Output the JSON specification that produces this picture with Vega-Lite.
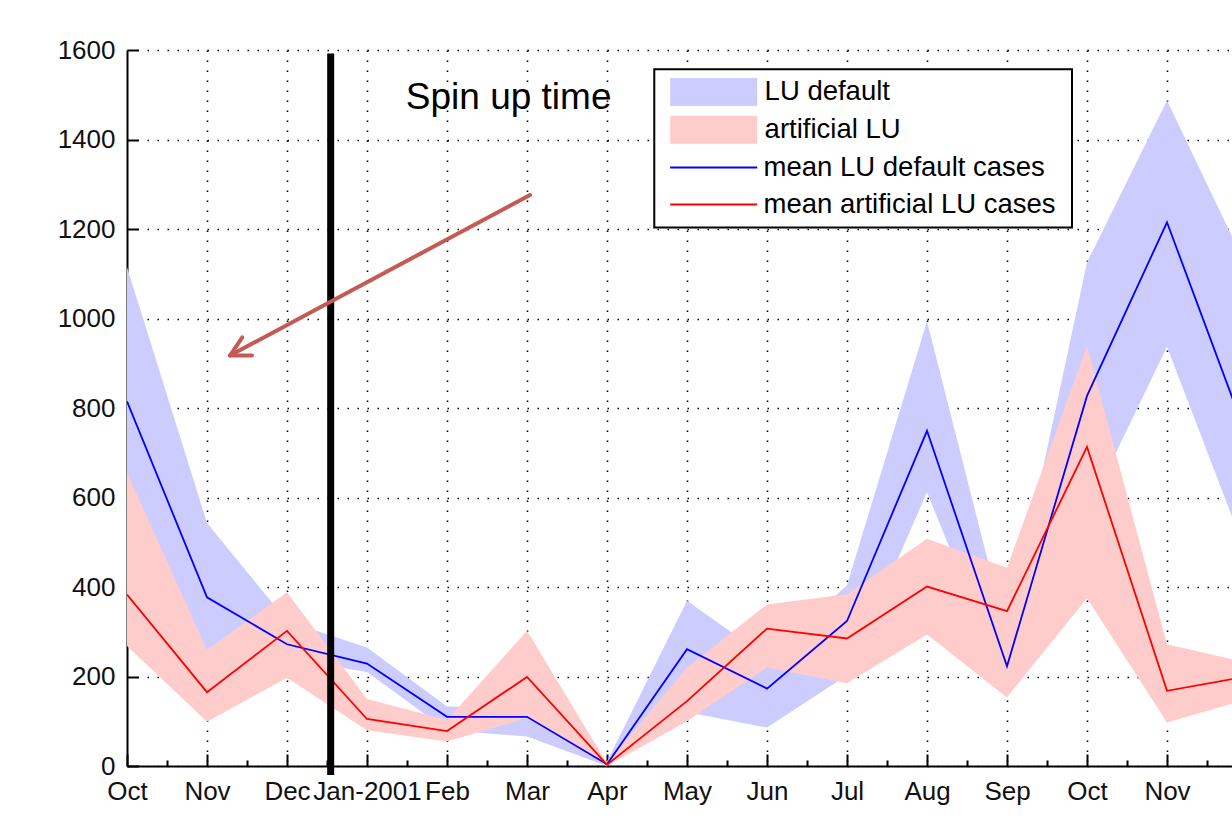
{
  "$schema": "https://vega.github.io/schema/vega-lite/v6.json",
  "width": 1105,
  "height": 716,
  "autosize": {"type": "none"},
  "padding": {"left": 127, "top": 50, "right": 0, "bottom": 55},
  "background": "white",
  "config": {"view": {"stroke": null}, "font": "Liberation Sans"},
  "datasets": {
    "series": [
      {"m": 0, "bMean": 815, "bLo": 530, "bHi": 1115, "rMean": 383, "rLo": 268, "rHi": 655},
      {"m": 1, "bMean": 377, "bLo": 230, "bHi": 543, "rMean": 165, "rLo": 99, "rHi": 260},
      {"m": 2, "bMean": 272, "bLo": 240, "bHi": 324, "rMean": 302, "rLo": 197, "rHi": 388},
      {"m": 3, "bMean": 229, "bLo": 210, "bHi": 265, "rMean": 105, "rLo": 80, "rHi": 150},
      {"m": 4, "bMean": 110, "bLo": 80, "bHi": 133, "rMean": 78, "rLo": 55, "rHi": 103},
      {"m": 5, "bMean": 110, "bLo": 66, "bHi": 130, "rMean": 199, "rLo": 107, "rHi": 302},
      {"m": 6, "bMean": 4, "bLo": 0, "bHi": 10, "rMean": 3, "rLo": 0, "rHi": 6},
      {"m": 7, "bMean": 261, "bLo": 120, "bHi": 369, "rMean": 145, "rLo": 100, "rHi": 220},
      {"m": 8, "bMean": 173, "bLo": 86, "bHi": 242, "rMean": 307, "rLo": 220, "rHi": 361},
      {"m": 9, "bMean": 324, "bLo": 203, "bHi": 404, "rMean": 285, "rLo": 185, "rHi": 384},
      {"m": 10, "bMean": 749, "bLo": 612, "bHi": 994, "rMean": 401, "rLo": 294, "rHi": 508},
      {"m": 11, "bMean": 223, "bLo": 170, "bHi": 290, "rMean": 346, "rLo": 153, "rHi": 443},
      {"m": 12, "bMean": 827, "bLo": 566, "bHi": 1125, "rMean": 713, "rLo": 375, "rHi": 939},
      {"m": 13, "bMean": 1215, "bLo": 937, "bHi": 1487, "rMean": 168, "rLo": 97, "rHi": 272},
      {"m": 14, "bMean": 735, "bLo": 470, "bHi": 1113, "rMean": 200, "rLo": 149, "rHi": 231}
    ],
    "arrow": [
      {"part": "shaft", "o": 0, "x": 5.0375, "y": 1276},
      {"part": "shaft", "o": 1, "x": 1.2875, "y": 917.3},
      {"part": "head", "o": 0, "x": 1.441, "y": 957.9},
      {"part": "head", "o": 1, "x": 1.2875, "y": 917.3},
      {"part": "head", "o": 2, "x": 1.5625, "y": 917.3}
    ],
    "notes": [
      {"x": 3.485, "y": 1493, "text": "Spin up time"}
    ],
    "spinup": [
      {"x": 2.546, "top": 1592, "bottom": -20}
    ],
    "legendbox": [
      {"x1": 6.591, "x2": 11.8125, "y1": 1203.3, "y2": 1556.8}
    ]
  },
  "layer": [
    {
      "data": {"name": "series"},
      "mark": {"type": "area", "clip": true, "opacity": 1},
      "encoding": {
        "x": {
          "field": "m", "type": "quantitative",
          "scale": {"domain": [0, 13.8125], "nice": false, "zero": false},
          "axis": {
            "values": [0, 0.5, 1, 1.5, 2, 2.5, 3, 3.5, 4, 4.5, 5, 5.5, 6, 6.5, 7, 7.5, 8, 8.5, 9, 9.5, 10, 10.5, 11, 11.5, 12, 12.5, 13, 13.5, 14],
            "labelExpr": "datum.value % 1 === 0 ? ['Oct','Nov','Dec','Jan-2001','Feb','Mar','Apr','May','Jun','Jul','Aug','Sep','Oct','Nov','Dec'][datum.value] : ''",
            "title": null,
            "grid": true,
            "gridColor": "#000",
            "gridDash": [1.5, 8.5],
            "gridWidth": 1.6,
            "gridOpacity": {"condition": {"test": "datum.value % 1 !== 0 || datum.value === 0", "value": 0}, "value": 1},
            "domainColor": "#000",
            "domainWidth": 2,
            "tickColor": "#000",
            "tickWidth": 2,
            "tickSize": {"condition": {"test": "datum.value % 1 === 0", "value": -12}, "value": -6},
            "labelFont": "Liberation Sans",
            "labelFontSize": 26,
            "labelColor": "#111",
            "labelPadding": 24,
            "labelOverlap": false,
            "labelFlush": false,
            "labelBound": false
          }
        },
        "y": {
          "field": "bHi", "type": "quantitative",
          "scale": {"domain": [0, 1600], "nice": false},
          "axis": {
            "values": [0, 200, 400, 600, 800, 1000, 1200, 1400, 1600],
            "format": "d",
            "title": null,
            "grid": true,
            "gridColor": "#000",
            "gridDash": [1.5, 8.5],
            "gridWidth": 1.6,
            "domainColor": "#000",
            "domainWidth": 2,
            "tickColor": "#000",
            "tickWidth": 2,
            "tickSize": -11,
            "labelFont": "Liberation Sans",
            "labelFontSize": 26,
            "labelColor": "#111",
            "labelPadding": 23,
            "labelOverlap": false,
            "labelFlush": false,
            "labelBound": false
          }
        },
        "y2": {"field": "bLo"},
        "fill": {
          "datum": "LU default",
          "scale": {"domain": ["LU default", "artificial LU"], "range": ["#ccccff", "#ffcccc"]},
          "legend": {
            "title": null,
            "orient": "none",
            "legendX": 543.2,
            "legendY": 28,
            "direction": "vertical",
            "padding": 0,
            "labelFont": "Liberation Sans",
            "labelFontSize": 27.5,
            "labelColor": "#000",
            "labelOffset": 66.4,
            "labelLimit": 0,
            "symbolType": "M-1,-1h6.214v2h-6.214Z",
            "symbolSize": 784,
            "symbolStrokeWidth": 0,
            "symbolOffset": 0,
            "symbolOpacity": 1,
            "rowPadding": 9.8
          }
        }
      }
    },
    {
      "data": {"name": "series"},
      "mark": {"type": "area", "clip": true, "opacity": 1},
      "encoding": {
        "x": {"field": "m", "type": "quantitative", "scale": {"domain": [0, 13.8125], "nice": false, "zero": false}},
        "y": {"field": "rHi", "type": "quantitative", "scale": {"domain": [0, 1600], "nice": false}},
        "y2": {"field": "rLo"},
        "fill": {"datum": "artificial LU"}
      }
    },
    {
      "data": {"name": "series"},
      "mark": {"type": "line", "clip": true, "strokeWidth": 1.8},
      "encoding": {
        "x": {"field": "m", "type": "quantitative", "scale": {"domain": [0, 13.8125], "nice": false, "zero": false}},
        "y": {"field": "bMean", "type": "quantitative", "scale": {"domain": [0, 1600], "nice": false}},
        "stroke": {
          "datum": "mean LU default cases",
          "scale": {"domain": ["mean LU default cases", "mean artificial LU cases"], "range": ["#0000ff", "#ff0000"]},
          "legend": {
            "title": null,
            "orient": "none",
            "legendX": 543.2,
            "legendY": 102.6,
            "direction": "vertical",
            "padding": 0,
            "labelFont": "Liberation Sans",
            "labelFontSize": 27.5,
            "labelColor": "#000",
            "labelOffset": 64.4,
            "labelLimit": 0,
            "symbolType": "M-1,0h6.214",
            "symbolSize": 784,
            "symbolStrokeWidth": 2,
            "symbolOffset": -1,
            "symbolOpacity": 1,
            "rowPadding": 8
          }
        }
      }
    },
    {
      "data": {"name": "series"},
      "mark": {"type": "line", "clip": true, "strokeWidth": 1.8},
      "encoding": {
        "x": {"field": "m", "type": "quantitative", "scale": {"domain": [0, 13.8125], "nice": false, "zero": false}},
        "y": {"field": "rMean", "type": "quantitative", "scale": {"domain": [0, 1600], "nice": false}},
        "stroke": {"datum": "mean artificial LU cases"}
      }
    },
    {
      "data": {"name": "spinup"},
      "mark": {"type": "rule", "color": "#000", "strokeWidth": 7},
      "encoding": {
        "x": {"field": "x", "type": "quantitative", "scale": {"domain": [0, 13.8125], "nice": false, "zero": false}},
        "y": {"field": "top", "type": "quantitative", "scale": {"domain": [0, 1600], "nice": false}},
        "y2": {"field": "bottom"}
      }
    },
    {
      "data": {"name": "arrow"},
      "mark": {"type": "line", "color": "#c55a54", "strokeWidth": 4, "strokeCap": "round", "strokeJoin": "round"},
      "encoding": {
        "x": {"field": "x", "type": "quantitative", "scale": {"domain": [0, 13.8125], "nice": false, "zero": false}},
        "y": {"field": "y", "type": "quantitative", "scale": {"domain": [0, 1600], "nice": false}},
        "detail": {"field": "part"},
        "order": {"field": "o"}
      }
    },
    {
      "data": {"name": "notes"},
      "mark": {"type": "text", "align": "left", "baseline": "middle", "font": "Liberation Sans", "fontSize": 37, "color": "#000"},
      "encoding": {
        "x": {"field": "x", "type": "quantitative", "scale": {"domain": [0, 13.8125], "nice": false, "zero": false}},
        "y": {"field": "y", "type": "quantitative", "scale": {"domain": [0, 1600], "nice": false}},
        "text": {"field": "text"}
      }
    },
    {
      "data": {"name": "legendbox"},
      "mark": {"type": "rect", "fill": "#fff", "stroke": "#000", "strokeWidth": 2},
      "encoding": {
        "x": {"field": "x1", "type": "quantitative", "scale": {"domain": [0, 13.8125], "nice": false, "zero": false}},
        "x2": {"field": "x2"},
        "y": {"field": "y1", "type": "quantitative", "scale": {"domain": [0, 1600], "nice": false}},
        "y2": {"field": "y2"}
      }
    }
  ]
}
